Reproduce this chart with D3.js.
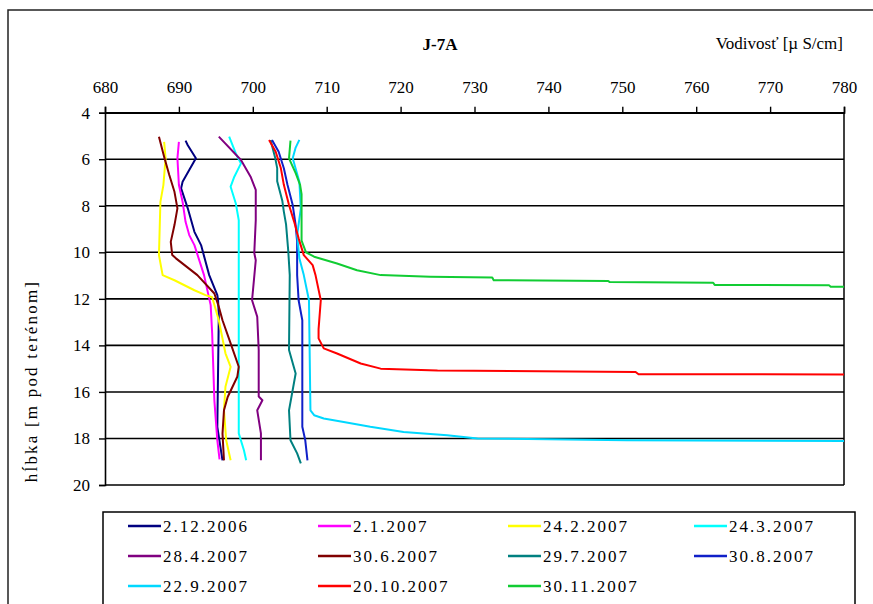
<!DOCTYPE html>
<html>
<head>
<meta charset="utf-8">
<script src="https://cdn.jsdelivr.net/npm/d3@7"></script>
<style>
  html, body { margin: 0; padding: 0; background: #fff; }
  svg { display: block; }
</style>
</head>
<body>
<svg id="chart" width="873" height="604"></svg>
<script>
// Conductivity profiles of borehole J-7A: [depth m, conductivity µS/cm]
const dec2006 = [[5.2,690.9],[5.4,691.2],[5.96,692.3],[6.97,690.5],[7.25,690.3],[8.11,691.2],[9.12,692.1],[9.69,693.0],[10.98,694.1],[11.84,695.2],[12.06,695.3],[12.7,695.4],[17.5,695.2],[18.94,695.9]];
const jan2007 = [[5.25,690.0],[5.96,689.8],[7.11,690.0],[7.83,690.5],[8.69,690.9],[9.26,691.4],[9.69,692.1],[10.98,693.4],[12.27,694.3],[13.48,694.5],[16.36,694.8],[18.08,695.2],[18.9,695.5]];
const feb2007 = [[5.25,688.0],[5.96,688.2],[7.11,687.9],[7.83,687.5],[10.12,687.3],[10.98,687.8],[11.2,689.4],[11.63,692.1],[11.84,693.6],[11.93,694.5],[12.92,695.4],[14.34,696.3],[14.92,697.0],[15.78,696.3],[16.79,696.1],[18.08,696.4],[18.94,697.0]];
const mar2007 = [[5.03,696.8],[5.75,697.7],[6.18,698.4],[6.75,697.5],[7.18,697.0],[7.9,697.7],[8.62,698.1],[17.78,698.1],[18.51,698.8],[18.94,699.1]];
const apr2007 = [[5.03,695.4],[6.03,698.4],[6.75,699.7],[7.32,700.4],[8.62,700.4],[10.03,700.2],[10.34,700.4],[12.06,699.9],[12.77,700.6],[14.2,700.8],[16.2,700.8],[16.36,701.3],[16.79,700.6],[17.78,701.1],[18.94,701.1]];
const jun2007 = [[5.03,687.3],[5.89,688.0],[6.68,688.7],[7.4,689.4],[8.11,689.8],[8.83,689.4],[9.55,688.9],[10.12,689.1],[10.26,689.6],[10.98,692.5],[11.77,694.8],[12.34,695.4],[12.92,695.9],[13.91,697.0],[14.92,698.1],[15.35,697.9],[16.22,696.6],[16.79,696.1],[17.79,695.9],[18.94,696.1]];
const jul2007 = [[5.17,702.4],[5.9,703.0],[6.38,703.3],[6.95,703.3],[7.8,704.0],[8.25,704.2],[8.8,704.5],[9.95,704.8],[10.98,705.0],[14.2,704.9],[15.21,705.8],[16.79,704.9],[18.08,705.1],[18.64,706.0],[19.07,706.5]];
const aug2007 = [[5.17,702.6],[5.68,703.5],[6.39,704.2],[7.11,704.7],[7.97,705.4],[8.83,705.8],[9.55,706.0],[10.98,706.0],[12.06,706.2],[12.92,706.7],[17.5,706.7],[18.08,707.1],[18.94,707.4]];
const sep2007 = [[5.17,706.3],[5.5,705.8],[5.96,705.4],[6.97,706.3],[8.11,706.5],[9.26,706.0],[10.26,706.3],[10.98,706.9],[12.06,707.6],[16.79,707.8],[17.0,708.3],[17.14,709.6],[17.29,712.3],[17.5,715.9],[17.72,720.4],[17.86,726.3],[18.0,730.4],[18.08,750.6],[18.11,779.9],[18.12,790]];
const oct2007 = [[5.17,702.2],[5.68,703.1],[6.39,703.8],[7.1,704.2],[7.97,704.9],[8.69,705.6],[9.4,706.2],[10.12,706.9],[10.55,708.1],[11.0,708.5],[12.06,709.2],[13.3,708.9],[13.7,708.9],[14.13,709.6],[14.35,711.4],[14.78,714.6],[15.0,717.3],[15.08,725.0],[15.14,751.8],[15.24,752.2],[15.25,790]];
const nov2007 = [[5.2,705.1],[5.96,704.9],[6.6,705.8],[7.1,706.4],[7.5,706.6],[8.8,706.6],[9.5,706.6],[10.0,707.2],[10.19,708.3],[10.48,711.4],[10.77,714.1],[10.98,717.3],[11.05,724.0],[11.08,732.4],[11.2,732.6],[11.23,748.1],[11.28,748.3],[11.31,762.3],[11.4,762.5],[11.42,778.0],[11.48,778.2],[11.49,790]];

const seriesNames = ["2.12.2006","2.1.2007","24.2.2007","24.3.2007","28.4.2007","30.6.2007","29.7.2007","30.8.2007","22.9.2007","20.10.2007","30.11.2007"];
const seriesData = [dec2006, jan2007, feb2007, mar2007, apr2007, jun2007, jul2007, aug2007, sep2007, oct2007, nov2007];
const seriesColors = ["#000080","#ff00ff","#ffff00","#00ffff","#800080","#800000","#008080","#1020c8","#00d8ff","#ff0000","#11cc33"];

const xTicks = [680,690,700,710,720,730,740,750,760,770,780];
const yTicks = [4,6,8,10,12,14,16,18,20];

const FONT = '"Liberation Serif", "Times New Roman", serif';
const svg = d3.select("#chart");

// outer chart frame
svg.append("rect").attr("x", 8).attr("y", 10).attr("width", 900).attr("height", 700)
  .attr("fill", "none").attr("stroke", "#222").attr("stroke-width", 1.5);

const plot = { left: 105, right: 844, top: 112.7, bottom: 485 };
const x = d3.scaleLinear().domain([680, 780]).range([plot.left, plot.right]);
const y = d3.scaleLinear().domain([4, 20]).range([plot.top, plot.bottom]);

// horizontal gridlines
svg.append("g").selectAll("line").data(yTicks).join("line")
  .attr("x1", plot.left).attr("x2", plot.right)
  .attr("y1", d => y(d)).attr("y2", d => y(d))
  .attr("stroke", "#000").attr("stroke-width", 1.6);

// right edge of plot area
svg.append("line").attr("x1", plot.right).attr("x2", plot.right)
  .attr("y1", plot.top).attr("y2", plot.bottom)
  .attr("stroke", "#000").attr("stroke-width", 1.5);

// top axis (conductivity)
const xAxis = svg.append("g").attr("transform", `translate(0,${plot.top})`)
  .call(d3.axisTop(x).tickValues(xTicks).tickSize(6).tickPadding(14).tickFormat(d3.format("d")));
xAxis.select(".domain").attr("stroke", "#000").attr("stroke-width", 1.6);
xAxis.selectAll(".tick line").attr("stroke", "#000").attr("stroke-width", 1.4);
xAxis.selectAll("text").style("font-family", FONT).style("font-size", "17px").attr("fill", "#000");

// left axis (depth)
const yAxis = svg.append("g").attr("transform", `translate(${plot.left},0)`)
  .call(d3.axisLeft(y).tickValues(yTicks).tickSize(6).tickPadding(9).tickFormat(d3.format("d")));
yAxis.select(".domain").attr("stroke", "#000").attr("stroke-width", 1.6);
yAxis.selectAll(".tick line").attr("stroke", "#000").attr("stroke-width", 1.4);
yAxis.selectAll("text").style("font-family", FONT).style("font-size", "17px").attr("fill", "#000");

// titles
svg.append("text").attr("x", 440).attr("y", 50).attr("text-anchor", "middle")
  .style("font-family", FONT).style("font-size", "17px").style("font-weight", "bold").text("J-7A");
svg.append("text").attr("x", 843).attr("y", 49).attr("text-anchor", "end")
  .style("font-family", FONT).style("font-size", "17px").text("Vodivosť [µ S/cm]");
svg.append("text").attr("transform", "translate(37,381) rotate(-90)").attr("text-anchor", "middle")
  .style("font-family", FONT).style("font-size", "17px").style("letter-spacing", "2.2px")
  .text("hĺbka [m pod terénom]");

// profiles, clipped to plot area
svg.append("clipPath").attr("id", "plotClip").append("rect")
  .attr("x", plot.left).attr("y", plot.top).attr("width", plot.right - plot.left).attr("height", plot.bottom - plot.top);

const line = d3.line().x(d => x(d[1])).y(d => y(d[0]));
svg.append("g").attr("clip-path", "url(#plotClip)")
  .selectAll("path").data(seriesData).join("path")
  .attr("d", line).attr("fill", "none")
  .attr("stroke", (d, i) => seriesColors[i]).attr("stroke-width", 2)
  .attr("stroke-linejoin", "round");

// legend
svg.append("rect").attr("x", 103).attr("y", 512).attr("width", 752).attr("height", 120)
  .attr("fill", "#fff").attr("stroke", "#000").attr("stroke-width", 1.5);
const colX = [128, 318, 508, 694];
const rowY = [526, 556, 586];
const items = svg.append("g").selectAll("g").data(seriesNames).join("g")
  .attr("transform", (d, i) => `translate(${colX[i % 4]},${rowY[Math.floor(i / 4)]})`);
items.append("line").attr("x1", 0).attr("x2", 33).attr("y1", 0).attr("y2", 0)
  .attr("stroke", (d, i) => seriesColors[i]).attr("stroke-width", 2.5);
items.append("text").attr("x", 35).attr("y", 6)
  .style("font-family", FONT).style("font-size", "17px").style("letter-spacing", "2px").text(d => d);
</script>
</body>
</html>
